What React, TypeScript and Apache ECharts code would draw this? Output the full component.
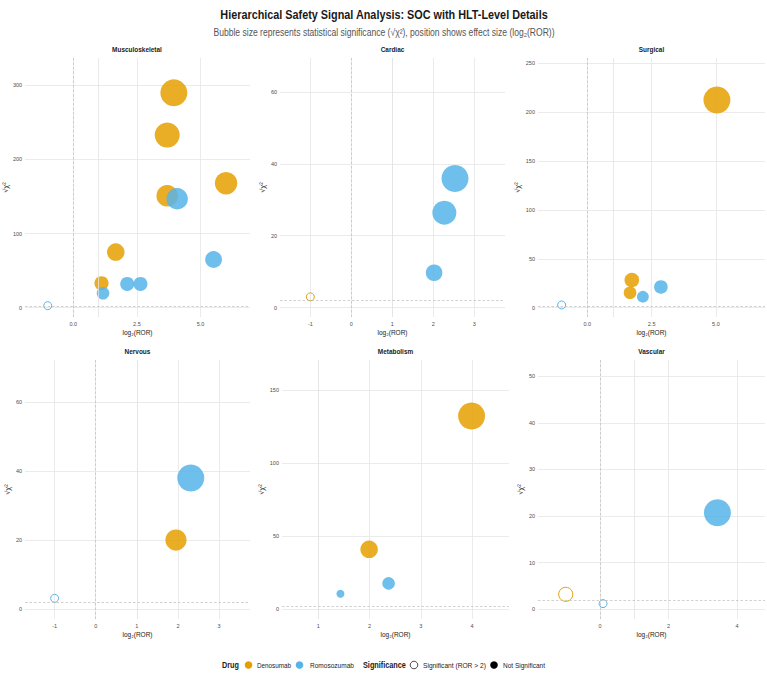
import { useEffect, useRef } from "react";
import * as echarts from "echarts";

const DENO = "Denosumab";
const ROMO = "Romosozumab";
const SIG = "Significant (ROR > 2)";
const NOT_SIG = "Not Significant";

const panelNames = ["Musculoskeletal", "Cardiac", "Surgical", "Nervous", "Metabolism", "Vascular"];

// Each signal: [log2(ROR), sqrt(chi2), drug, significance class]
type Signal = [number, number, string, string];

const musculoskeletal: Signal[] = [
  [3.95, 290, DENO, NOT_SIG],
  [3.69, 233, DENO, NOT_SIG],
  [6.0, 168, DENO, NOT_SIG],
  [3.69, 151, DENO, NOT_SIG],
  [1.67, 75, DENO, NOT_SIG],
  [1.11, 33, DENO, NOT_SIG],
  [4.08, 147, ROMO, NOT_SIG],
  [5.51, 65, ROMO, NOT_SIG],
  [2.12, 32, ROMO, NOT_SIG],
  [2.64, 32, ROMO, NOT_SIG],
  [1.17, 19.5, ROMO, NOT_SIG],
  [-1.0, 2.7, ROMO, SIG],
];

const cardiac: Signal[] = [
  [-1.0, 3.0, DENO, SIG],
  [2.53, 35.9, ROMO, NOT_SIG],
  [2.27, 26.4, ROMO, NOT_SIG],
  [2.02, 9.7, ROMO, NOT_SIG],
];

const surgical: Signal[] = [
  [5.04, 212.4, DENO, NOT_SIG],
  [1.73, 28.3, DENO, NOT_SIG],
  [1.66, 15.3, DENO, NOT_SIG],
  [2.16, 11.2, ROMO, NOT_SIG],
  [2.86, 21.2, ROMO, NOT_SIG],
  [-1.0, 2.8, ROMO, SIG],
];

const nervous: Signal[] = [
  [1.95, 20.1, DENO, NOT_SIG],
  [2.31, 38.1, ROMO, NOT_SIG],
  [-1.0, 3.2, ROMO, SIG],
];

const metabolism: Signal[] = [
  [3.99, 132.4, DENO, NOT_SIG],
  [1.99, 41.1, DENO, NOT_SIG],
  [2.37, 17.8, ROMO, NOT_SIG],
  [1.43, 10.7, ROMO, NOT_SIG],
];

const vascular: Signal[] = [
  [-1.0, 3.2, DENO, SIG],
  [3.43, 20.7, ROMO, NOT_SIG],
  [0.09, 1.2, ROMO, SIG],
];

const panelSignals = [musculoskeletal, cardiac, surgical, nervous, metabolism, vascular];

// Axis limits and tick values per panel
const xLimits = [[-1.89, 6.94], [-1.74, 3.75], [-1.92, 6.91], [-1.72, 3.75], [0.29, 4.72], [-1.81, 4.82]];
const yLimits = [[-12.6, 337], [-2.6, 69.4], [-9.5, 255.3], [-2.8, 72.3], [-6.6, 170.8], [-2.1, 53.5]];
const xTicks = [[0, 2.5, 5], [-1, 0, 1, 2, 3], [0, 2.5, 5], [-1, 0, 1, 2, 3], [1, 2, 3, 4], [0, 2, 4]];
const yTicks = [
  [0, 100, 200, 300],
  [0, 20, 40, 60],
  [0, 50, 100, 150, 200, 250],
  [0, 20, 40, 60],
  [0, 50, 100, 150],
  [0, 10, 20, 30, 40, 50],
];
const xDecimals = [1, 0, 1, 0, 0, 0];

// Reference lines: null effect, ROR = 2, and the sqrt(chi2) threshold
const nullEffectX = 0;
const rorTwoX = 1;
const chiThresholdY = 2;

const drugs = [DENO, ROMO];
const drugColors: Record<string, string> = { [DENO]: "#E69F00", [ROMO]: "#56B4E9" };

const FONT = '"Liberation Sans", Arial, Helvetica, sans-serif';

const gridRects = [
  { left: 24, top: 58, width: 226, height: 259 },
  { left: 280, top: 58, width: 225, height: 259 },
  { left: 538, top: 58, width: 227, height: 259 },
  { left: 25, top: 360, width: 225, height: 259 },
  { left: 282, top: 360, width: 227, height: 259 },
  { left: 538, top: 360, width: 227, height: 259 },
];

function bubbleDiameter(v: number, lo: number, hi: number) {
  const t = hi > lo ? (v - lo) / (hi - lo) : 1;
  return 8 + 19 * Math.sqrt(Math.max(0, t));
}

// Horizontal squeeze that gives a text run the narrow look of the headings
const measureCtx =
  typeof document !== "undefined" ? document.createElement("canvas").getContext("2d") : null;
function squeezeTo(text: string, font: string, width: number) {
  if (!measureCtx) return 0.84;
  measureCtx.font = font;
  const w = measureCtx.measureText(text).width;
  return w > 0 ? width / w : 0.84;
}

export default function App() {
  const ref = useRef<HTMLDivElement>(null);

  useEffect(() => {
    if (!ref.current) return;
    const chart = echarts.init(ref.current, undefined, { renderer: "svg" });

    const grids: any[] = [];
    const xAxes: any[] = [];
    const yAxes: any[] = [];
    const series: any[] = [];
    const graphics: any[] = [];

    const textEl = (
      x: number,
      y: number,
      text: string,
      font: string,
      fill: string,
      align: string,
      scaleX: number
    ) => ({
      type: "text",
      x,
      y,
      scaleX,
      style: { text, align, verticalAlign: "middle", font, fill },
    });

    panelNames.forEach((name, i) => {
      const g = gridRects[i];
      grids.push({ ...g, containLabel: false });
      xAxes.push({
        type: "value",
        gridIndex: i,
        min: xLimits[i][0],
        max: xLimits[i][1],
        axisLine: { show: false },
        axisTick: { show: false, customValues: xTicks[i] },
        axisLabel: {
          customValues: xTicks[i],
          formatter: (v: number) => v.toFixed(xDecimals[i]),
          fontSize: 5.5,
          color: "#4d4d4d",
          fontFamily: FONT,
          margin: 4,
        },
        splitLine: { show: true, lineStyle: { color: "#e6e6e6", width: 0.8 } },
        name: "log₂(ROR)",
        nameLocation: "middle",
        nameGap: 12,
        nameTextStyle: { fontSize: 6.5, color: "#222", fontFamily: FONT },
      });
      yAxes.push({
        type: "value",
        gridIndex: i,
        min: yLimits[i][0],
        max: yLimits[i][1],
        axisLine: { show: false },
        axisTick: { show: false, customValues: yTicks[i] },
        axisLabel: {
          customValues: yTicks[i],
          fontSize: 5.5,
          color: "#4d4d4d",
          fontFamily: FONT,
          margin: 3,
        },
        splitLine: { show: true, lineStyle: { color: "#e6e6e6", width: 0.8 } },
        name: "√χ²",
        nameLocation: "middle",
        nameGap: 9,
        nameRotate: 90,
        nameTextStyle: { fontSize: 7.5, color: "#222", fontFamily: FONT },
      });

      const pts = panelSignals[i];
      const ys = pts.map((p) => p[1]);
      const lo = Math.min(...ys);
      const hi = Math.max(...ys);

      const dashed = { type: [2.5, 2], color: "#bdbdbd", width: 0.7 };
      const lines: any[] = [];
      if (nullEffectX >= xLimits[i][0]) {
        lines.push({ xAxis: nullEffectX, lineStyle: dashed });
      }
      lines.push({ xAxis: rorTwoX, lineStyle: { type: "solid", color: "#e3e3e3", width: 0.8 } });
      lines.push({ yAxis: chiThresholdY, lineStyle: dashed });

      series.push({
        type: "scatter",
        xAxisIndex: i,
        yAxisIndex: i,
        data: [],
        z: 1,
        silent: true,
        markLine: {
          silent: true,
          symbol: "none",
          label: { show: false },
          animation: false,
          data: lines,
        },
      });

      drugs.forEach((drug) => {
        const data = pts
          .filter((p) => p[2] === drug)
          .map((p) => {
            const hollow = p[3] === SIG;
            return {
              value: [p[0], p[1]],
              symbolSize: bubbleDiameter(p[1], lo, hi),
              itemStyle: hollow
                ? { color: "rgba(255,255,255,0)", borderColor: drugColors[drug], borderWidth: 1, opacity: 1 }
                : { color: drugColors[drug], opacity: 0.85, borderWidth: 0 },
            };
          });
        series.push({
          name: drug,
          type: "scatter",
          xAxisIndex: i,
          yAxisIndex: i,
          z: 3,
          data,
        });
      });

      const pf = `bold 7.5px ${FONT}`;
      graphics.push(textEl(g.left + g.width / 2, g.top - 9, name, pf, "#222", "center", 0.86));
    });

    // Page title and subtitle
    const title = "Hierarchical Safety Signal Analysis: SOC with HLT-Level Details";
    const titleFont = `bold 13px ${FONT}`;
    graphics.push(textEl(384, 15, title, titleFont, "#1a1a1a", "center", squeezeTo(title, titleFont, 328)));
    const subtitle =
      "Bubble size represents statistical significance (√χ²), position shows effect size (log₂(ROR))";
    const subFont = `10px ${FONT}`;
    graphics.push(textEl(384, 33, subtitle, subFont, "#555", "center", squeezeTo(subtitle, subFont, 342)));

    // Legend row
    const ly = 665;
    const boldFont = `bold 8.5px ${FONT}`;
    const itemFont = `7px ${FONT}`;
    const legendText = (x: number, text: string, bold: boolean, width: number) => {
      const f = bold ? boldFont : itemFont;
      return textEl(x, ly, text, f, "#222", "left", squeezeTo(text, f, width));
    };
    const legendDot = (x: number, fill: string, stroke?: string) => ({
      type: "circle",
      shape: { cx: x, cy: ly, r: 3.8 },
      style: stroke ? { fill: "#fff", stroke, lineWidth: 0.8 } : { fill },
    });
    graphics.push(legendText(222, "Drug", true, 17));
    graphics.push(legendDot(248.5, drugColors[DENO]));
    graphics.push(legendText(257, DENO, false, 34));
    graphics.push(legendDot(299.5, drugColors[ROMO]));
    graphics.push(legendText(310, ROMO, false, 44));
    graphics.push(legendText(363, "Significance", true, 43));
    graphics.push(legendDot(414, "#fff", "#222"));
    graphics.push(legendText(423, SIG, false, 63));
    graphics.push(legendDot(494, "#000"));
    graphics.push(legendText(503, NOT_SIG, false, 42));

    chart.setOption({
      animation: false,
      backgroundColor: "#fff",
      textStyle: { fontFamily: FONT },
      grid: grids,
      xAxis: xAxes,
      yAxis: yAxes,
      series,
      graphic: graphics,
    });

    return () => chart.dispose();
  }, []);

  return (
    <div
      ref={ref}
      style={{ position: "fixed", left: 0, top: 0, width: 767, height: 673 }}
    />
  );
}
